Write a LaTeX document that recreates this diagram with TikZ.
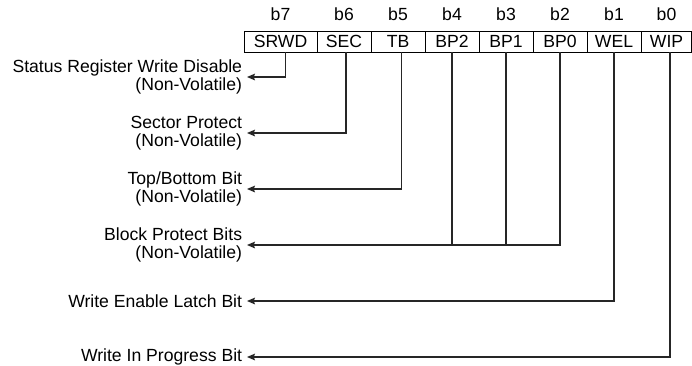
\documentclass[tikz,border=0pt]{standalone}
\usepackage{fontspec}
\setmainfont{Liberation Sans}
\usetikzlibrary{positioning, arrows.meta}

\begin{document}
\begin{tikzpicture}[x=0.75pt, y=-0.75pt, >={Stealth[length=6pt, width=5pt, inset=1pt]},
  every node/.style={font=\fontsize{13.2pt}{13.8pt}\selectfont},
  cell/.style={draw, line width=0.75pt, outer sep=0pt, inner sep=0pt, minimum height=15.75pt},
  bitlabel/.style={inner sep=0pt},
  fieldlabel/.style={align=right, anchor=east, inner sep=3.5pt},
  wire/.style={line width=0.9pt, draw=black!85}]

\useasboundingbox (0,0) rectangle (692,365);

% register cells
\foreach \n/\t/\cx/\w in {srwd/SRWD/280.5/73, sec/SEC/344/54, tb/TB/398/54, bp2/BP2/452/54,
    bp1/BP1/506/54, bp0/BP0/560/54, wel/WEL/614/54, wip/WIP/666.5/50}
  \node [cell, minimum width=\w*0.75pt] (\n) at (\cx,41.5) {\t};

\foreach \n/\b in {srwd/7, sec/6, tb/5, bp2/4, bp1/3, bp0/2, wel/1, wip/0}
  \node [bitlabel, above=7.5pt of \n] (bit-\b) {b\b};

% field descriptions
\node [fieldlabel] (lbl-srwd) at (247,77) {Status Register Write Disable\\(Non-Volatile)};
\node [fieldlabel] (lbl-sec) at (247,133) {Sector Protect\\(Non-Volatile)};
\node [fieldlabel] (lbl-tb) at (247,189) {Top/Bottom Bit\\(Non-Volatile)};
\node [fieldlabel] (lbl-bp) at (247,245) {Block Protect Bits\\(Non-Volatile)};
\node [fieldlabel] (lbl-wel) at (247,301) {Write Enable Latch Bit};
\node [fieldlabel] (lbl-wip) at (247,357) {Write In Progress Bit};

\draw [wire, ->] ([xshift=4pt]srwd.south) |- (lbl-srwd);
\draw [wire, ->] ([xshift=1.5pt]sec.south) |- (lbl-sec);
\draw [wire, ->] ([xshift=2.6pt]tb.south) |- (lbl-tb);
\draw [wire, ->] (bp0.south) |- (lbl-bp);
\foreach \n in {bp2, bp1}
  \draw [wire] (\n.south) -- (\n.south |- lbl-bp);
\draw [wire, ->] (wel.south) |- (lbl-wel);
\draw [wire, ->] ([xshift=2.6pt]wip.south) |- (lbl-wip);

\end{tikzpicture}
\end{document}
